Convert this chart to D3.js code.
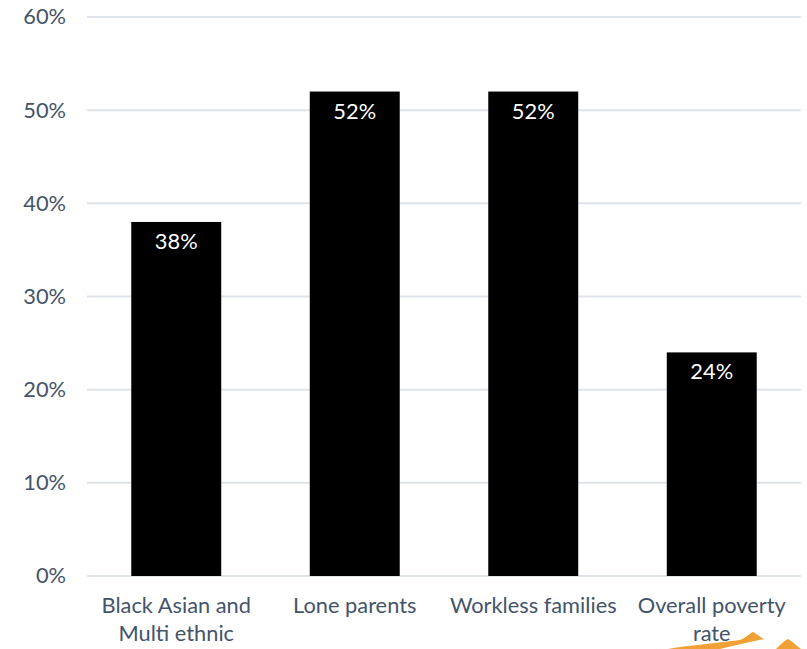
<!DOCTYPE html>
<html>
<head>
<meta charset="utf-8">
<script src="https://cdn.jsdelivr.net/npm/d3@7"></script>
<style>
body { margin: 0; background: #fff; }
svg { display: block; }
</style>
</head>
<body>
<svg id="chart" width="807" height="649"></svg>
<script>
const categories = [["Black Asian and", "Multi ethnic"], ["Lone parents"], ["Workless families"], ["Overall poverty", "rate"]];
const values = [38, 52, 52, 24];
const yTicks = [0, 10, 20, 30, 40, 50, 60];

const svg = d3.select("#chart");
const font = "Lato, sans-serif";
const textColor = "#44546a";
const fs = 21.8;
const margin = { left: 87, right: 6, top: 17, bottom: 73 };
const W = 807, H = 649;

const x = d3.scaleBand().domain(d3.range(values.length)).range([margin.left, W - margin.right]).paddingInner(0.496).paddingOuter(0.248);
const y = d3.scaleLinear().domain([0, 60]).range([H - margin.bottom, margin.top]);

// decorative orange swoosh (bottom right), drawn behind text
const deco = svg.append("g").attr("fill", "#f0a035");
deco.append("path").attr("d", "M668,649 C690,645 720,643 740,640 C746,638 750,633 753,632 C756,633 760,637 764,639 C750,642 735,645 720,649 Z");
deco.append("path").attr("d", "M776,649 C780,645 785,640 788,639 C792,641 797,646 801,649 Z");

// gridlines
svg.append("g").selectAll("line").data(yTicks).join("line")
  .attr("x1", margin.left).attr("x2", W - margin.right)
  .attr("y1", d => y(d)).attr("y2", d => y(d))
  .attr("stroke", "#dfe4ea").attr("stroke-width", 2);

// y axis labels
const yAxis = d3.axisLeft(y).tickValues(yTicks).tickFormat(d => d + "%").tickSize(0).tickPadding(21);
const ya = svg.append("g").attr("transform", `translate(${margin.left},0)`).call(yAxis);
ya.select(".domain").remove();
ya.selectAll("text").attr("font-family", font).attr("font-size", fs).attr("fill", textColor);

// bars
svg.append("g").selectAll("rect").data(values).join("rect")
  .attr("x", (d, i) => x(i)).attr("width", x.bandwidth())
  .attr("y", d => y(d)).attr("height", d => y(0) - y(d))
  .attr("fill", "#000");

// value labels
svg.append("g").selectAll("text").data(values).join("text")
  .attr("x", (d, i) => x(i) + x.bandwidth() / 2)
  .attr("y", d => y(d) + 27)
  .attr("text-anchor", "middle")
  .attr("font-family", font).attr("font-size", fs).attr("fill", "#fff")
  .text(d => d + "%");

// category labels
const cg = svg.append("g");
categories.forEach((lines, i) => {
  const t = cg.append("text")
    .attr("x", x(i) + x.bandwidth() / 2)
    .attr("y", y(0) + 37)
    .attr("text-anchor", "middle")
    .attr("font-family", font).attr("font-size", fs).attr("fill", textColor);
  lines.forEach((l, j) => {
    t.append("tspan").attr("x", x(i) + x.bandwidth() / 2).attr("dy", j === 0 ? 0 : 28).text(l);
  });
});
</script>
</body>
</html>
